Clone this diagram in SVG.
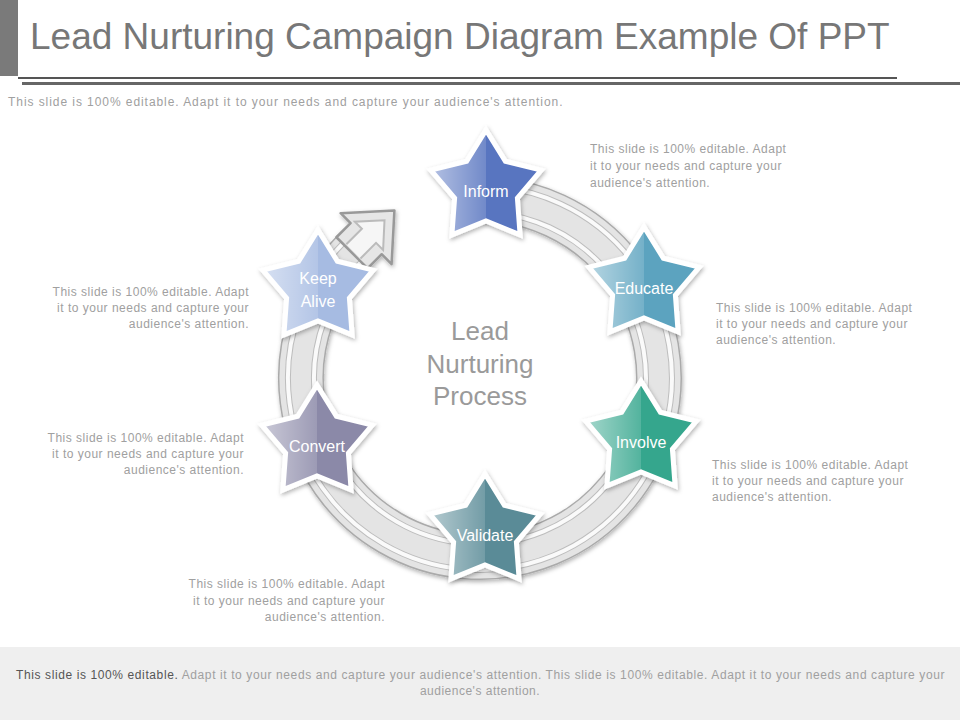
<svg xmlns="http://www.w3.org/2000/svg" width="960" height="720" viewBox="0 0 960 720">
<style>
.t{font-family:"Liberation Sans",Arial,sans-serif;font-size:12px;fill:#a0a0a0;letter-spacing:0.5px}
.r{text-anchor:end}
.lbl{font-family:"Liberation Sans",Arial,sans-serif;font-size:16px;fill:#fff;text-anchor:middle}
.c{font-family:"Liberation Sans",Arial,sans-serif;font-size:26px;fill:#9a9a9a;text-anchor:middle}
.st{stroke:#fff;stroke-width:5;stroke-linejoin:miter}
</style>
<defs>
<linearGradient id="hl" x1="0" y1="0" x2="1" y2="0">
<stop offset="0" stop-color="#fff" stop-opacity="0.55"/>
<stop offset="1" stop-color="#fff" stop-opacity="0.15"/>
</linearGradient>
<filter id="sh" x="-30%" y="-30%" width="160%" height="160%">
<feDropShadow dx="1" dy="2" stdDeviation="2" flood-color="#000" flood-opacity="0.3"/>
</filter>
<path id="star" d="M0,-58 L19.4,-26.7 L55.2,-17.9 L31.4,10.2 L34.1,46.9 L0,33 L-34.1,46.9 L-31.4,10.2 L-55.2,-17.9 L-19.4,-26.7Z"/>
<path id="half" d="M0,-58 L0,33 L-34.1,46.9 L-31.4,10.2 L-55.2,-17.9 L-19.4,-26.7Z"/>
</defs>
<rect width="960" height="720" fill="#fff"/>
<rect x="0" y="0" width="18" height="76" fill="#7a7a7a"/>
<text x="30" y="49" style="font-family:'Liberation Sans',Arial,sans-serif;font-size:37px;fill:#777">Lead Nurturing Campaign Diagram Example Of PPT</text>
<rect x="18" y="77" width="879" height="2" fill="#555"/>
<rect x="22" y="82" width="938" height="3" fill="#666"/>
<text class="t" x="8" y="106" textLength="555">This slide is 100% editable. Adapt it to your needs and capture your audience's attention.</text>

<g id="connectors" filter="url(#sh)">
<path d="M480 199 A179 179 0 1 1 353.4 251.4" fill="none" stroke="#aaa" stroke-width="46"/>
<path d="M480 199 A179 179 0 1 1 353.4 251.4" fill="none" stroke="#e4e4e4" stroke-width="43"/>
<path d="M480 186 A192 192 0 1 1 344.2 242.2" fill="none" stroke="#bdbdbd" stroke-width="6"/>
<path d="M480 186 A192 192 0 1 1 344.2 242.2" fill="none" stroke="#fafafa" stroke-width="4"/>
<path d="M480 212 A166 166 0 1 1 362.6 260.6" fill="none" stroke="#bdbdbd" stroke-width="6"/>
<path d="M480 212 A166 166 0 1 1 362.6 260.6" fill="none" stroke="#fafafa" stroke-width="4"/>
<g transform="translate(353.4,251.4) rotate(-45)">
<polygon points="-2,-22 18,-22 18,-36 58,0 18,36 18,22 -2,22" fill="#e6e6e6" stroke="#999" stroke-width="2.5" stroke-linejoin="round"/>
<polyline points="0,-10 22,-10 22,-20 44,0 22,20 22,10 0,10" fill="#f6f6f6" stroke="#bbb" stroke-width="2"/>
</g>
</g>

<text class="c" x="480" y="340">Lead</text>
<text class="c" x="480" y="373">Nurturing</text>
<text class="c" x="480" y="405">Process</text>

<g id="inform" transform="translate(486,188)">
<use href="#star" class="st" fill="#5874c0" filter="url(#sh)"/><use href="#half" fill="url(#hl)"/>
<text class="lbl" y="9">Inform</text></g>
<g id="educate" transform="translate(644,285)">
<use href="#star" class="st" fill="#5ba3bf" filter="url(#sh)"/><use href="#half" fill="url(#hl)"/>
<text class="lbl" y="9">Educate</text></g>
<g id="involve" transform="translate(641,439)">
<use href="#star" class="st" fill="#35a68d" filter="url(#sh)"/><use href="#half" fill="url(#hl)"/>
<text class="lbl" y="9">Involve</text></g>
<g id="validate" transform="translate(485,532)">
<use href="#star" class="st" fill="#5a8b97" filter="url(#sh)"/><use href="#half" fill="url(#hl)"/>
<text class="lbl" y="9">Validate</text></g>
<g id="convert" transform="translate(317,443)">
<use href="#star" class="st" fill="#8b89a8" filter="url(#sh)"/><use href="#half" fill="url(#hl)"/>
<text class="lbl" y="9">Convert</text></g>
<g id="keepalive" transform="translate(318,288)">
<use href="#star" class="st" fill="#a6bbe2" filter="url(#sh)"/><use href="#half" fill="url(#hl)"/>
<text class="lbl" y="-4">Keep</text><text class="lbl" y="19">Alive</text></g>

<text class="t" x="590" y="153">This slide is 100% editable. Adapt</text>
<text class="t" x="590" y="170">it to your needs and capture your</text>
<text class="t" x="590" y="187">audience's attention.</text>
<text class="t" x="716" y="312">This slide is 100% editable. Adapt</text>
<text class="t" x="716" y="328">it to your needs and capture your</text>
<text class="t" x="716" y="344">audience's attention.</text>
<text class="t" x="712" y="469">This slide is 100% editable. Adapt</text>
<text class="t" x="712" y="485">it to your needs and capture your</text>
<text class="t" x="712" y="501">audience's attention.</text>
<text class="t r" x="249" y="296">This slide is 100% editable. Adapt</text>
<text class="t r" x="249" y="312">it to your needs and capture your</text>
<text class="t r" x="249" y="328">audience's attention.</text>
<text class="t r" x="244" y="442">This slide is 100% editable. Adapt</text>
<text class="t r" x="244" y="458">it to your needs and capture your</text>
<text class="t r" x="244" y="474">audience's attention.</text>
<text class="t r" x="385" y="588">This slide is 100% editable. Adapt</text>
<text class="t r" x="385" y="605">it to your needs and capture your</text>
<text class="t r" x="385" y="621">audience's attention.</text>

<rect x="0" y="647" width="960" height="73" fill="#efefef"/>
<text class="t" x="16" y="679" textLength="929"><tspan fill="#555">This slide is 100% editable.</tspan> Adapt it to your needs and capture your audience's attention. This slide is 100% editable. Adapt it to your needs and capture your</text>
<text class="t" x="480" y="695" text-anchor="middle">audience's attention.</text>
</svg>
